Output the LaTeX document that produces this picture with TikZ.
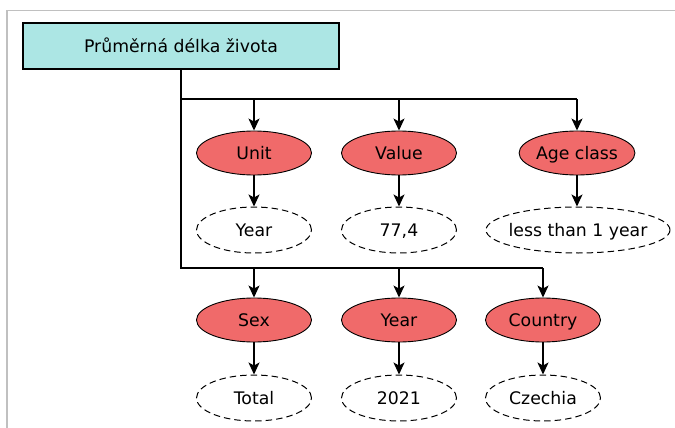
\documentclass[tikz,border=0pt]{standalone}
\usepackage{fontspec}
\setmainfont{DejaVu Sans}
\usetikzlibrary{shapes.geometric,arrows.meta}
\definecolor{titlefill}{RGB}{172,230,228}
\definecolor{keyfill}{RGB}{240,106,106}
\definecolor{framegray}{RGB}{192,192,192}
\tikzset{
  every node/.style={inner sep=0pt, text height=12.6pt, text depth=0pt, font=\fontsize{17.3}{20}\selectfont},
  titlebox/.style={draw, fill=titlefill, line width=1.1pt, minimum width=316pt, minimum height=46pt},
  keynode/.style={ellipse, draw, fill=keyfill, line width=0.9pt, minimum width=115pt, minimum height=44pt},
  valnode/.style={ellipse, draw, dashed, dash pattern=on 6.5pt off 4pt, line width=1pt, minimum width=115pt,
    minimum height=46pt},
  link/.style={line width=1.4pt, -{Stealth[length=12pt,width=11pt,inset=3pt]}},
  trunk/.style={line width=1.4pt}
}
\begin{document}
\begin{tikzpicture}[x=1pt,y=-1pt]
  \useasboundingbox (0,0) rectangle (675,428);
  % panel frame
  \draw[framegray, line width=1.5pt] (7,428) -- (7,10.5) -- (675,10.5);

  % title
  \node[titlebox] (title) at (181,46) {Průměrná délka života};

  % junctions of the two branch lines
  \coordinate (j1) at (181,99);
  \coordinate (j2) at (181,268);

  % first row
  \node[keynode] (unit)  at (254,153) {Unit};
  \node[keynode] (value) at (399,153) {Value};
  \node[keynode] (age)   at (577,153) {Age class};
  \node[valnode] (year1) at (254,230) {Year};
  \node[valnode] (num)   at (399,230) {77,4};
  \node[valnode, minimum width=184pt] (less) at (578,230) {\makebox[0pt]{less than 1 year}};

  % second row
  \node[keynode] (sex)     at (254,320) {Sex};
  \node[keynode] (yearkey) at (399,320) {Year};
  \node[keynode] (country) at (543,320) {Country};
  \node[valnode] (total)   at (254,398) {Total};
  \node[valnode] (y2021)   at (399,398) {2021};
  \node[valnode] (cz)      at (543,398) {Czechia};

  % trunk and branch lines
  \draw[trunk] (title) -- (j2) -- (j2 -| country);
  \draw[trunk] (j1) -- (j1 -| age);

  % arrows to the keys
  \draw[link] (j1) -| (unit);
  \draw[link] (j1 -| value) -- (value);
  \draw[link] (j1 -| age) -- (age);
  \draw[link] (j2) -| (sex);
  \draw[link] (j2 -| yearkey) -- (yearkey);
  \draw[link] (j2 -| country) -- (country);

  % arrows from keys to values
  \draw[link] (unit) -- (year1);
  \draw[link] (value) -- (num);
  \draw[link] (age.south) -- (less.north -| age.south);
  \draw[link] (sex) -- (total);
  \draw[link] (yearkey) -- (y2021);
  \draw[link] (country) -- (cz);
\end{tikzpicture}
\end{document}
